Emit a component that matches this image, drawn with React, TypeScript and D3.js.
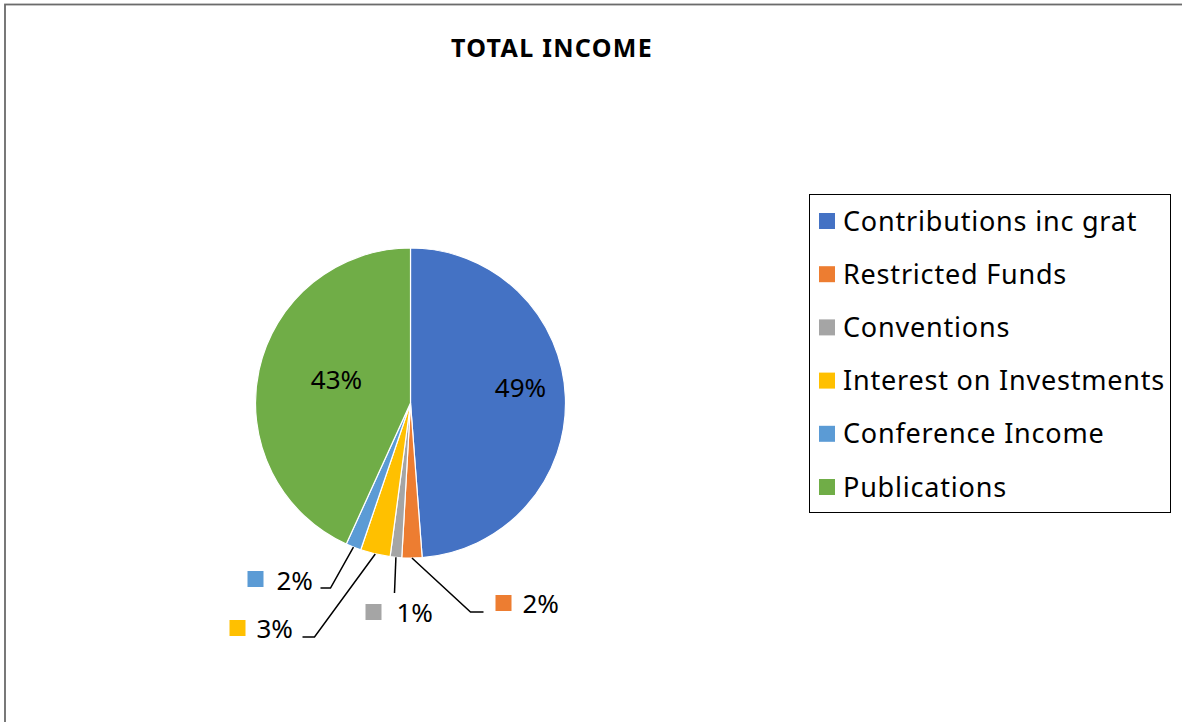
import React from 'react';
import * as d3 from 'd3';

const title = 'TOTAL INCOME';
const categories = [
  'Contributions inc grat',
  'Restricted Funds',
  'Conventions',
  'Interest on Investments',
  'Conference Income',
  'Publications',
];
const values = [48.8, 2.1, 1.2, 3.1, 1.6, 43.2];
const colors = ['#4472C4', '#ED7D31', '#A5A5A5', '#FFC000', '#5B9BD5', '#70AD47'];

const W = 1182;
const H = 722;
const FONT = '"Noto Sans", Lato, sans-serif';

// layout (relative to pie centre)
const CX = 410.5;
const CY = 403;
const R = 155;

type Inside = { kind: 'in'; dx: number; dy: number };
type Outside = { kind: 'out'; elbow: [number, number]; end: [number, number]; mx: number; my: number; tx: number; ty: number };
const labelLayout: (Inside | Outside)[] = [
  { kind: 'in', dx: 110, dy: -15 },
  { kind: 'out', elbow: [60, 209], end: [73, 209], mx: 85, my: 192, tx: 112, ty: 210 },
  { kind: 'out', elbow: [-16, 190], end: [-16, 190], mx: -45, my: 201, tx: -14, ty: 219 },
  { kind: 'out', elbow: [-96, 234], end: [-108, 234], mx: -181, my: 217, tx: -154, ty: 235 },
  { kind: 'out', elbow: [-80, 185], end: [-90, 185], mx: -163, my: 168, tx: -134, ty: 187 },
  { kind: 'in', dx: -74, dy: -23 },
];

export default function App() {
  const total = d3.sum(values);
  const pie = d3.pie<number>().sort(null).value((d) => d)(values);
  const arc = d3.arc<d3.PieArcDatum<number>>().innerRadius(0).outerRadius(R);
  const pct = (v: number) => `${Math.round((v / total) * 100)}%`;

  const legendX = 809.5;
  const legendY = 194.5;
  const legendW = 361;
  const legendH = 318;
  const rowY = d3.scalePoint<number>().domain(d3.range(categories.length)).range([221, 487]);
  const txt = { fontFamily: FONT, fontVariantLigatures: 'none' } as React.CSSProperties;

  return (
    <svg width={W} height={H} style={{ position: 'absolute', left: 0, top: 0, background: '#fff' }}>
      <rect x={5} y={4.5} width={W + 50} height={H + 50} fill="#fff" stroke="#6b6b6b" strokeWidth={1.8} />
      <text x={552} y={57} textAnchor="middle" style={{ ...txt, letterSpacing: '1.3px' }} fontWeight="bold" fontSize={25} fill="#000">
        {title}
      </text>
      <g transform={`translate(${CX},${CY})`}>
        {pie.map((p, i) => (
          <path key={i} d={arc(p) || ''} fill={colors[i]} stroke="#fff" strokeWidth={1.2} />
        ))}
        {pie.map((p, i) => {
          const L = labelLayout[i];
          if (L.kind === 'in') {
            return (
              <text key={'l' + i} x={L.dx} y={L.dy} dy="0.35em" textAnchor="middle" style={txt} fontSize={26} fill="#000">
                {pct(values[i])}
              </text>
            );
          }
          const mid = (p.startAngle + p.endAngle) / 2;
          const sx = Math.sin(mid) * R;
          const sy = -Math.cos(mid) * R;
          const pts: [number, number][] = [[sx, sy], L.elbow, L.end];
          const line = d3.line()(pts) || '';
          return (
            <g key={'l' + i}>
              <path d={line} fill="none" stroke="#000" strokeWidth={1.5} />
              <rect x={L.mx} y={L.my} width={16} height={16} fill={colors[i]} />
              <text x={L.tx} y={L.ty} style={txt} fontSize={26} fill="#000">
                {pct(values[i])}
              </text>
            </g>
          );
        })}
      </g>
      <rect x={legendX} y={legendY} width={legendW} height={legendH} fill="#fff" stroke="#000" strokeWidth={1} />
      {categories.map((c, i) => (
        <g key={c}>
          <rect x={819} y={(rowY(i) as number) - 8} width={16} height={16} fill={colors[i]} />
          <text x={843} y={(rowY(i) as number) + 9.5} style={{ ...txt, letterSpacing: '0.8px' }} fontSize={27} fill="#000">
            {c}
          </text>
        </g>
      ))}
    </svg>
  );
}
